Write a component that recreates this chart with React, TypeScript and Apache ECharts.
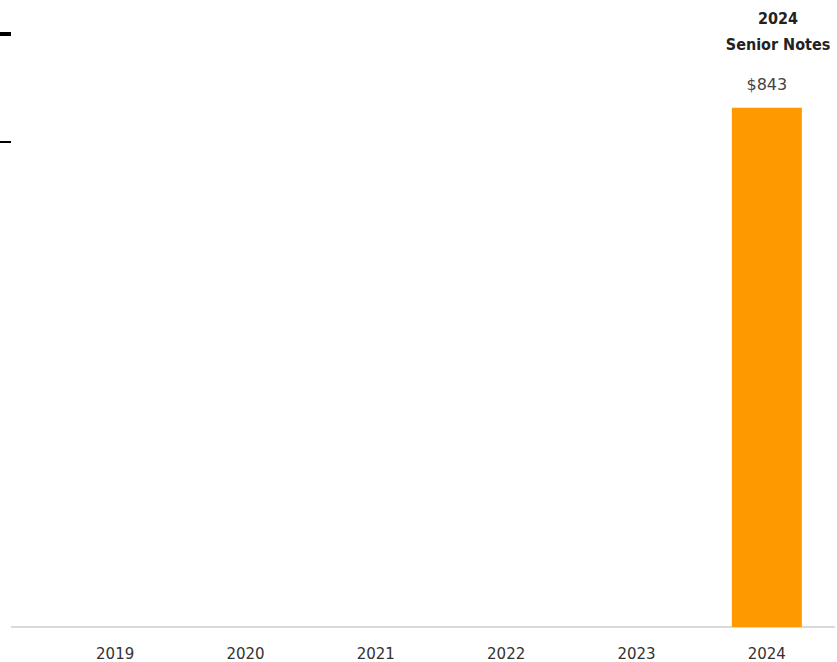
import React, { useEffect, useRef } from "react";
import * as echarts from "echarts";

const categories = ["2019", "2020", "2021", "2022", "2023", "2024"];
const values: (number | null)[] = [null, null, null, null, null, 843];
const valueLabels = ["", "", "", "", "", "$843"];
const titleLines = ["2024", "Senior Notes"];

export default function App() {
  const ref = useRef<HTMLDivElement>(null);
  useEffect(() => {
    if (!ref.current) return;
    const chart = echarts.init(ref.current, null, { renderer: "svg" });
    chart.setOption({
      animation: false,
      backgroundColor: "#ffffff",
      grid: { left: 50, right: 5, top: 11, bottom: 35, containLabel: false },
      xAxis: {
        type: "category",
        data: categories,
        axisLine: { show: false },
        axisTick: { show: false },
        axisLabel: {
          color: "#333333",
          fontFamily: "DejaVu Sans",
          fontSize: 15,
          margin: 19,
        },
      },
      yAxis: {
        type: "value",
        min: 0,
        max: 1000,
        show: false,
        splitLine: { show: false },
      },
      series: [
        {
          type: "bar",
          data: values,
          barWidth: 70,
          itemStyle: { color: "#FF9900" },
          label: {
            show: true,
            position: "top",
            distance: 15,
            formatter: (p: any) => valueLabels[p.dataIndex],
            color: "#444444",
            fontFamily: "DejaVu Sans",
            fontSize: 16,
          },
        },
      ],
      graphic: [
        { type: "rect", shape: { x: 0, y: 32, width: 11, height: 4 }, style: { fill: "#000" } },
        { type: "rect", shape: { x: 0, y: 141, width: 11, height: 2 }, style: { fill: "#000" } },
        { type: "line", shape: { x1: 11, y1: 627, x2: 835, y2: 627 }, style: { stroke: "#d9d9d9", lineWidth: 2 } },
        {
          type: "text",
          x: 778,
          y: 31,
          style: {
            text: titleLines.join("\n"),
            fill: "#222222",
            font: "bold 16px 'DejaVu Sans Condensed'",
            align: "center",
            verticalAlign: "middle",
            lineHeight: 26,
          },
        },
      ],
    });
    return () => chart.dispose();
  }, []);
  return <div ref={ref} style={{ width: 837, height: 662, position: "absolute", left: 0, top: 0 }} />;
}
